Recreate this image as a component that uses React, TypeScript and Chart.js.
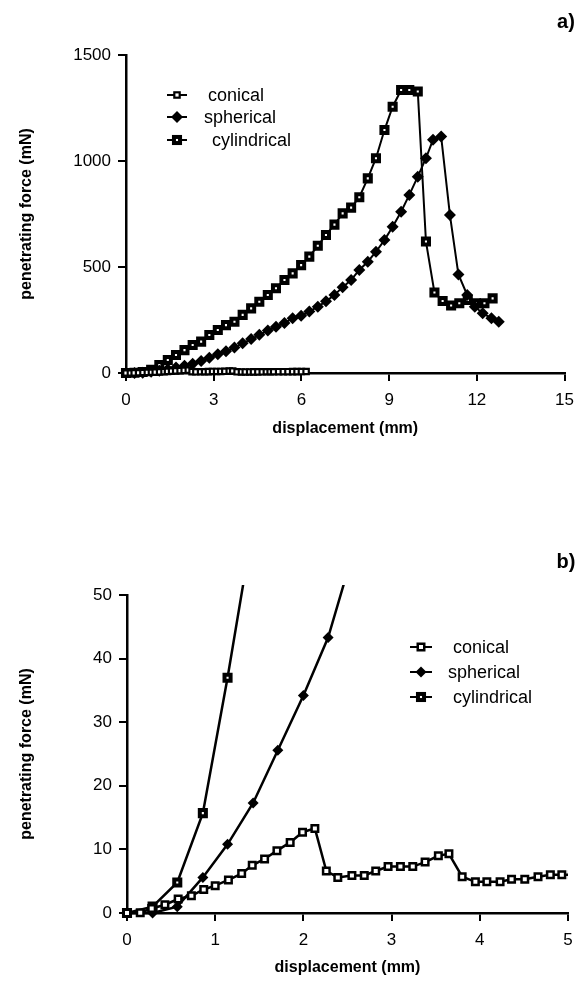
import React, { useEffect, useRef } from 'react';
import { Chart, registerables } from 'chart.js';

Chart.register(...registerables);

// ---------- data ----------
const seriesNames = ['conical', 'spherical', 'cylindrical'];
const legendLabels = ['conical', 'spherical', 'cylindrical'];

const conicalX = [0, 0.15, 0.28, 0.43, 0.58, 0.73, 0.87, 1.0, 1.15, 1.3, 1.42, 1.56, 1.7, 1.85, 1.99, 2.13,
  2.26, 2.39, 2.55, 2.69, 2.82, 2.96, 3.1, 3.24, 3.38, 3.53, 3.65, 3.8, 3.95, 4.08, 4.23, 4.36, 4.51, 4.66,
  4.8, 4.93, 5.05, 5.22, 5.38, 5.54, 5.7, 5.85, 6.0, 6.16];
const conicalY = [0, 0.05, 0.7, 1.3, 2.2, 2.7, 3.7, 4.3, 5.2, 6.2, 7.5, 8.5, 9.8, 11.1, 12.7, 13.3,
  6.6, 5.6, 5.9, 5.9, 6.6, 7.3, 7.3, 7.3, 8.0, 9.0, 9.3, 5.7, 4.9, 4.9, 4.9, 5.3, 5.3, 5.7,
  6.0, 6.0, 6.0, 6.2, 6.3, 6.3, 6.5, 6.6, 6.8, 7.0];

const sphericalX = [0, 0.29, 0.57, 0.86, 1.14, 1.43, 1.71, 2.0, 2.28, 2.57, 2.85, 3.14, 3.42, 3.71, 3.99,
  4.28, 4.56, 4.85, 5.13, 5.42, 5.7, 5.99, 6.27, 6.56, 6.84, 7.13, 7.41, 7.7, 7.98, 8.27, 8.55, 8.84,
  9.12, 9.41, 9.69, 9.98, 10.26, 10.5, 10.78, 11.08, 11.37, 11.67, 11.93, 12.2, 12.5, 12.75];
const sphericalY = [0, 0, 1.0, 5.6, 10.8, 17.3, 25.6, 34.2, 43.3, 57, 72, 88, 103, 120, 140,
  160, 180, 200, 218, 236, 258, 270, 290, 313, 338, 368, 405, 439, 486, 525, 572, 627,
  690, 761, 840, 926, 1013, 1100, 1115, 745, 465, 368, 313, 282, 258, 242];

const cylindricalX = [0, 0.29, 0.57, 0.86, 1.14, 1.43, 1.71, 2.0, 2.28, 2.57, 2.85, 3.14, 3.42, 3.71, 3.99,
  4.28, 4.56, 4.85, 5.13, 5.42, 5.7, 5.99, 6.27, 6.56, 6.84, 7.13, 7.41, 7.7, 7.98, 8.27, 8.55, 8.84,
  9.12, 9.41, 9.69, 9.98, 10.26, 10.55, 10.83, 11.12, 11.4, 11.69, 11.97, 12.26, 12.54];
const cylindricalY = [0, 1, 4.8, 15.7, 37, 61, 85, 108, 132, 148, 179, 203, 226, 242, 274,
  305, 336, 368, 400, 439, 470, 509, 549, 600, 651, 700, 753, 780, 829, 918, 1013, 1146,
  1256, 1335, 1335, 1328, 620, 380, 340, 318, 329, 345, 329, 329, 352];

const xTicksA = [0, 3, 6, 9, 12, 15];
const yTicksA = [0, 500, 1000, 1500];
const xTicksB = [0, 1, 2, 3, 4, 5];
const yTicksB = [0, 10, 20, 30, 40, 50];

const xTitle = 'displacement (mm)';
const yTitle = 'penetrating force (mN)';

const FONT = "'Liberation Sans', Arial, Helvetica, sans-serif";

type Panel = {
  top: number; height: number; padTop: number; padRight: number; yAxisWidth: number; xAxisHeight: number;
  xTicks: number[]; yTicks: number[]; label: string; labelX: number; labelY: number;
  legendX: number; legendLine: number; legendRows: number[]; legendTextX: number[];
  titlePadBottom: number; lineWidth: number; conR: number; conBW: number; cylR: number; cylBW: number; sphR: number;
  clip: any;
};

const panels: Panel[] = [
  {
    top: 0, height: 470, padTop: 55, padRight: 16, yAxisWidth: 126, xAxisHeight: 97,
    xTicks: xTicksA, yTicks: yTicksA, label: 'a)', labelX: 566, labelY: 22,
    legendX: 177, legendLine: 10, legendRows: [95, 117, 140], legendTextX: [208, 204, 212],
    titlePadBottom: 32, lineWidth: 2, conR: 3.8, conBW: 2.2, cylR: 4.3, cylBW: 4, sphR: 6, clip: 6,
  },
  {
    top: 470, height: 511, padTop: 125, padRight: 15, yAxisWidth: 127, xAxisHeight: 68,
    xTicks: xTicksB, yTicks: yTicksB, label: 'b)', labelX: 566, labelY: 92,
    legendX: 421, legendLine: 11, legendRows: [177, 202, 227], legendTextX: [453, 448, 453],
    titlePadBottom: 4, lineWidth: 2.5, conR: 4.6, conBW: 2.5, cylR: 4.3, cylBW: 4, sphR: 5.5,
    clip: { left: 6, top: 10, right: 0, bottom: 6 },
  },
];

function toPoints(xs: number[], ys: number[]) {
  return xs.map((x, i) => ({ x, y: ys[i] }));
}

function drawMarker(ctx: CanvasRenderingContext2D, kind: number, x: number, y: number, p: Panel) {
  ctx.save();
  ctx.strokeStyle = '#000';
  ctx.fillStyle = '#000';
  if (kind === 1) {
    const r = p.sphR;
    ctx.beginPath();
    ctx.moveTo(x, y - r);
    ctx.lineTo(x + r, y);
    ctx.lineTo(x, y + r);
    ctx.lineTo(x - r, y);
    ctx.closePath();
    ctx.fill();
  } else {
    const r = kind === 0 ? p.conR : p.cylR;
    const bw = kind === 0 ? p.conBW : p.cylBW;
    const s = r / Math.SQRT2;
    ctx.fillStyle = '#fff';
    ctx.lineWidth = bw;
    ctx.fillRect(x - s, y - s, 2 * s, 2 * s);
    ctx.strokeRect(x - s, y - s, 2 * s, 2 * s);
  }
  ctx.restore();
}

function PanelChart({ p }: { p: Panel }) {
  const ref = useRef<HTMLCanvasElement>(null);
  useEffect(() => {
    const canvas = ref.current!;
    const decor = {
      id: 'decor',
      afterDatasetsDraw(chart: any) {
        const ctx: CanvasRenderingContext2D = chart.ctx;
        ctx.save();
        for (let i = 0; i < 3; i++) {
          const y = p.legendRows[i];
          ctx.strokeStyle = '#000';
          ctx.lineWidth = 2;
          ctx.beginPath();
          ctx.moveTo(p.legendX - p.legendLine, y);
          ctx.lineTo(p.legendX + p.legendLine, y);
          ctx.stroke();
          drawMarker(ctx, i, p.legendX, y, p);
          ctx.fillStyle = '#000';
          ctx.font = `18px ${FONT}`;
          ctx.textAlign = 'left';
          ctx.textBaseline = 'middle';
          ctx.fillText(legendLabels[i], p.legendTextX[i], y + 1);
        }
        ctx.font = `bold 20px ${FONT}`;
        ctx.textAlign = 'center';
        ctx.textBaseline = 'middle';
        ctx.fillStyle = '#000';
        ctx.fillText(p.label, p.labelX, p.labelY);
        ctx.restore();
      },
    };
    const common = {
      type: 'line',
      showLine: true,
      borderColor: '#000',
      borderWidth: p.lineWidth,
      pointBorderColor: '#000',
      tension: 0,
      clip: p.clip,
    };
    const xMax = p.xTicks[p.xTicks.length - 1];
    const yMax = p.yTicks[p.yTicks.length - 1];
    const plain = (v: any) => String(v);
    const chart = new Chart(canvas, {
      type: 'line',
      data: {
        datasets: [
          {
            ...common, label: seriesNames[0], data: toPoints(conicalX, conicalY),
            pointStyle: 'rect', pointRadius: p.conR, pointBorderWidth: p.conBW, pointBackgroundColor: '#fff',
          },
          {
            ...common, label: seriesNames[1], data: toPoints(sphericalX, sphericalY),
            pointStyle: 'rectRot', pointRadius: p.sphR, pointBorderWidth: 0, pointBackgroundColor: '#000',
          },
          {
            ...common, label: seriesNames[2], data: toPoints(cylindricalX, cylindricalY),
            pointStyle: 'rect', pointRadius: p.cylR, pointBorderWidth: p.cylBW, pointBackgroundColor: '#fff',
          },
        ] as any,
      },
      options: {
        animation: false,
        responsive: false,
        devicePixelRatio: 1,
        layout: { padding: { left: 0, top: p.padTop, right: p.padRight, bottom: 0 } },
        plugins: { legend: { display: false }, tooltip: { enabled: false } },
        elements: { point: { hoverRadius: 0 } },
        scales: {
          x: {
            type: 'linear', min: 0, max: xMax,
            afterBuildTicks: (s: any) => { s.ticks = p.xTicks.map((v) => ({ value: v })); },
            afterFit: (s: any) => { s.height = p.xAxisHeight; },
            ticks: { color: '#000', font: { family: FONT, size: 17 }, padding: 9, maxRotation: 0, callback: plain },
            grid: { display: true, drawOnChartArea: false, drawTicks: true, tickLength: 8, color: '#000', lineWidth: 2 },
            border: { display: true, color: '#000', width: 2.5 },
            title: {
              display: true, text: xTitle, color: '#000',
              font: { family: FONT, size: 16, weight: 'bold' }, padding: { top: 0, bottom: p.titlePadBottom },
            },
          },
          y: {
            type: 'linear', min: 0, max: yMax,
            afterBuildTicks: (s: any) => { s.ticks = p.yTicks.map((v) => ({ value: v })); },
            afterFit: (s: any) => { s.width = p.yAxisWidth; },
            ticks: { color: '#000', font: { family: FONT, size: 17 }, padding: 7, callback: plain },
            grid: { display: true, drawOnChartArea: false, drawTicks: true, tickLength: 8, color: '#000', lineWidth: 2 },
            border: { display: true, color: '#000', width: 2.5 },
            title: {
              display: true, text: yTitle, color: '#000',
              font: { family: FONT, size: 16, weight: 'bold' }, padding: { top: 17, bottom: 0 },
            },
          },
        },
      } as any,
      plugins: [decor],
    } as any);
    return () => chart.destroy();
  }, [p]);
  return (
    <canvas
      ref={ref}
      width={583}
      height={p.height}
      style={{ position: 'absolute', left: 0, top: p.top, width: 583, height: p.height }}
    />
  );
}

export default function App() {
  return (
    <div style={{ position: 'absolute', left: 0, top: 0, width: 583, height: 981, background: '#fff' }}>
      {panels.map((p, i) => (
        <PanelChart key={i} p={p} />
      ))}
    </div>
  );
}
